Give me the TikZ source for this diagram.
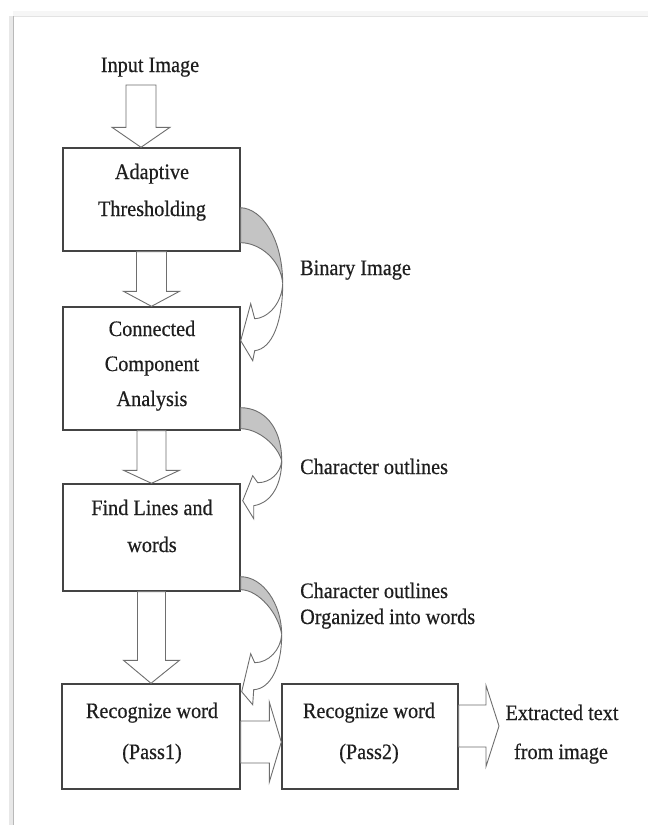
\documentclass[tikz,border=0pt]{standalone}
\usepackage{fontspec}
\setmainfont{Liberation Serif}[FakeStretch=0.92, FakeBold=0.5]
\usetikzlibrary{calc}

\definecolor{ink}{HTML}{1E1E1E}
\definecolor{boxline}{HTML}{444444}
\definecolor{arrowline}{HTML}{6E6E6E}
\definecolor{ribbon}{HTML}{C4C4C4}

\tikzset{
  box/.style={draw=boxline, line width=1.4pt, fill=white, inner sep=0pt, rectangle},
  txt/.style={font=\fontsize{22}{26}\selectfont, text=ink, inner sep=0pt, anchor=base},
  lbl/.style={txt, anchor=base west},
  blockarrow/.style={draw=arrowline, line width=0.9pt, fill=white, line join=miter},
  ribbonside/.style={draw=arrowline, line width=0.9pt, fill=ribbon},
  ribbonfront/.style={draw=arrowline, line width=0.9pt, fill=white}
}

% hollow arrow pointing down: #1 top centre, #2 tip, #3 shaft half width,
% #4 head half width, #5 head length
\newcommand\downblock[5]{%
  \draw[blockarrow] let \p1=(#1), \p2=(#2) in
    (\x1-#3pt,\y1) -- (\x1-#3pt,\y2+#5pt) -- (\x1-#4pt,\y2+#5pt) -- (\x2,\y2)
    -- (\x1+#4pt,\y2+#5pt) -- (\x1+#3pt,\y2+#5pt) -- (\x1+#3pt,\y1) -- cycle;}

% hollow arrow pointing right: #1 start, #2 tip, #3 shaft half width,
% #4 head half width, #5 head length
\newcommand\rightblock[5]{%
  \draw[blockarrow] let \p1=(#1), \p2=(#2) in
    (\x1,\y2+#3pt) -- (\x2-#5pt,\y2+#3pt) -- (\x2-#5pt,\y2+#4pt) -- (\x2,\y2)
    -- (\x2-#5pt,\y2-#4pt) -- (\x2-#5pt,\y2-#3pt) -- (\x1,\y2-#3pt) -- cycle;}

\begin{document}
\begin{tikzpicture}[x=1pt, y=-1pt]
\useasboundingbox (0,0) rectangle (648,825);
\fill[white] (0,0) rectangle (648,825);

% page edge with its soft shadow
\fill[gray!7] (13,11) rectangle (648,16);
\fill[gray!18] (9,16) rectangle (13,825);
\draw[gray!22, line width=0.8pt] (13,16) -- (648,16);
\draw[gray!55, line width=1.3pt] (13.5,16) -- (13.5,825);

% process boxes
\node[box, minimum width=177pt, minimum height=103pt] (b1) at (151.5,199.5) {};
\node[box, minimum width=177pt, minimum height=123pt] (b2) at (151.5,368.5) {};
\node[box, minimum width=177pt, minimum height=107pt] (b3) at (151.5,537.5) {};
\node[box, minimum width=178pt, minimum height=105pt] (b4) at (151,736.5) {};
\node[box, minimum width=176pt, minimum height=105pt] (b5) at (370,736.5) {};

% texts
\node[txt] (tin) at (150,72) {Input Image};
\node[txt] (t1a) at (152,179) {Adaptive};
\node[txt] (t1b) at (152,216) {Thresholding};
\node[txt] (t2a) at (152,336) {Connected};
\node[txt] (t2b) at (152,371) {Component};
\node[txt] (t2c) at (152,406) {Analysis};
\node[txt] (t3a) at (152,515) {Find Lines and};
\node[txt] (t3b) at (152,552) {words};
\node[txt] (t4a) at (152,718) {Recognize word};
\node[txt] (t4b) at (152,759) {(Pass1)};
\node[txt] (t5a) at (369,718) {Recognize word};
\node[txt] (t5b) at (369,759) {(Pass2)};
\node[txt] (ext1) at (562,720) {Extracted text};
\node[txt] (ext2) at (561,759) {from image};
\node[lbl] (l1) at (300,275) {Binary Image};
\node[lbl] (l2) at (300,474) {Character outlines};
\node[lbl] (l3a) at (300,598) {Character outlines};
\node[lbl] (l3b) at (300,624) {Organized into words};

% hollow block arrows
\coordinate (inTop) at (141,85);
\downblock{inTop}{inTop |- b1.north}{15}{29}{20}
\downblock{b1.south}{b2.north}{15}{28}{15}
\downblock{b2.south}{b3.north}{14.5}{28}{13}
\downblock{b3.south}{b4.north}{14}{28}{23}
\rightblock{b4.east}{$(b5.west)+(0,5.5)$}{21}{40}{12}
\coordinate (outTip) at (499,726);
\rightblock{b5.east}{outTip}{21}{40.5}{13}

% twisted ribbon arrows carrying the intermediate results
\begin{scope}[shift={(b1.south east)}]
  \filldraw[ribbonside] (0,-44) .. controls (22,-43) and (42,-12) .. (42,32)
    .. controls (40,7) and (18,-9) .. (0,-9) -- cycle;
  \filldraw[ribbonfront] (42,32) .. controls (41,54) and (25,67) .. (14,67)
    -- (10,52) -- (0,89) -- (12,109) -- (14,99)
    .. controls (32,97) and (42,69) .. (42,32) -- cycle;
\end{scope}
\begin{scope}[shift={(b2.south east)}]
  \filldraw[ribbonside] (0,-23) .. controls (22,-23) and (41,-5) .. (41,30)
    .. controls (37,15) and (18,-2) .. (0,-2) -- cycle;
  \filldraw[ribbonfront] (41,30) .. controls (40,42) and (30,52) .. (17,52)
    -- (12,45) -- (2,70) -- (13,88) -- (13,75)
    .. controls (32,72) and (41,52) .. (41,30) -- cycle;
\end{scope}
\begin{scope}[shift={(b3.south east)}]
  \filldraw[ribbonside] (0,-15) .. controls (22,-15) and (41,12) .. (41,43)
    .. controls (38,22) and (18,-2) .. (0,-2) -- cycle;
  \filldraw[ribbonfront] (41,43) .. controls (40,58) and (28,71) .. (14,71)
    -- (10,62) -- (1,100) -- (12,113) -- (13,98)
    .. controls (30,97) and (41,75) .. (41,43) -- cycle;
\end{scope}
\end{tikzpicture}
\end{document}
